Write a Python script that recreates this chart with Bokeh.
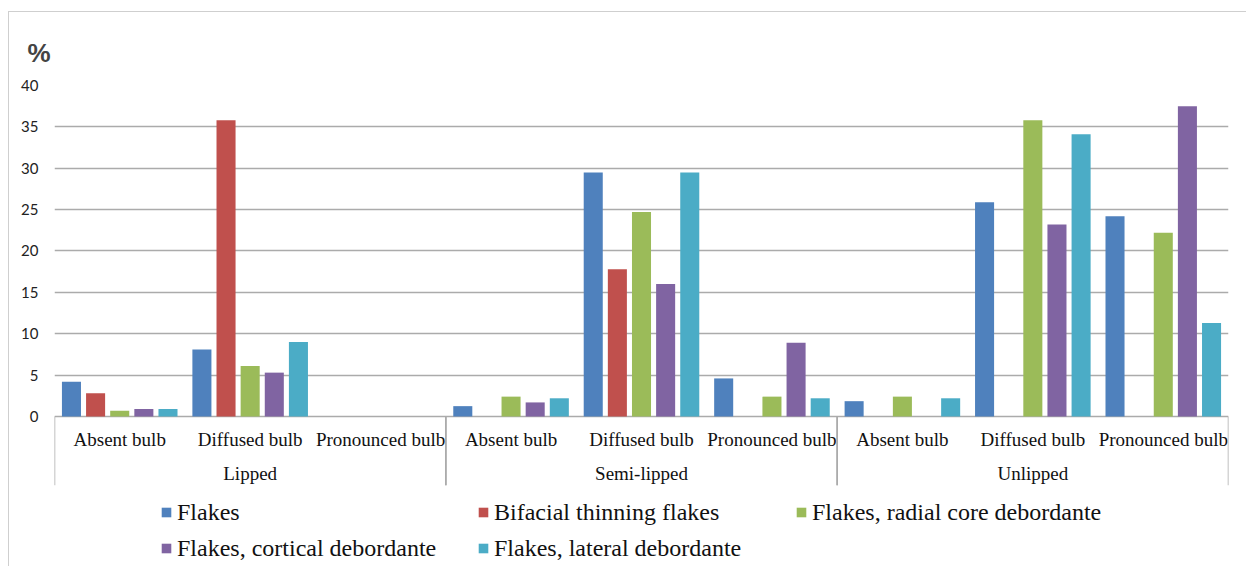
from bokeh.plotting import figure
from bokeh.models import (FactorRange, Range1d, Legend, LegendItem, FixedTicker,
                          ColumnDataSource)
from bokeh.transform import dodge
from bokeh.embed import file_html
from bokeh.resources import INLINE

groups = ["Lipped", "Semi-lipped", "Unlipped"]
bulbs = ["Absent bulb", "Diffused bulb", "Pronounced bulb"]
series = ["Flakes", "Bifacial thinning flakes", "Flakes, radial core debordante",
          "Flakes, cortical debordante", "Flakes, lateral debordante"]
colors = ["#4F81BD", "#C0504D", "#9BBB59", "#8064A2", "#4BACC6"]

flakes = [4.2, 8.1, 0, 1.25, 29.5, 4.6, 1.85, 25.9, 24.2]
bifacial = [2.8, 35.8, 0, 0, 17.8, 0, 0, 0, 0]
radial = [0.7, 6.1, 0, 2.4, 24.7, 2.4, 2.4, 35.8, 22.2]
cortical = [0.9, 5.3, 0, 1.7, 16.0, 8.9, 0, 23.2, 37.5]
lateral = [0.9, 9.0, 0, 2.2, 29.5, 2.2, 2.2, 34.1, 11.3]
y_ticks = [0, 5, 10, 15, 20, 25, 30, 35, 40]

factors = [(g, b) for g in groups for b in bulbs]
values = [flakes, bifacial, radial, cortical, lateral]
keys = ["s0", "s1", "s2", "s3", "s4"]
data = {"x": factors, "label": [b for g in groups for b in bulbs]}
for k, v in zip(keys, values):
    data[k] = v
src = ColumnDataSource(data)

GRID = "#ababab"

# page offset of the chart box (border drawn at its top/left)
OX, OY = 9, 12

p = figure(x_range=FactorRange(*factors, group_padding=0, factor_padding=0, range_padding=0),
           y_range=Range1d(-18.25, 40), width=1247 - OX, height=567 - OY,
           output_backend="svg", toolbar_location=None,
           min_border_left=54 - OX, min_border_right=19,
           min_border_top=85 - OY, min_border_bottom=0)
p.styles = {"margin-left": f"{OX - 1}px", "margin-top": f"{OY - 1}px",
            "border-top": "1px solid #cfcfcf", "border-left": "1px solid #cfcfcf"}

offsets = [-0.37, -0.185, 0.0, 0.185, 0.37]
renderers = []
for k, c, off in zip(keys, colors, offsets):
    r = p.vbar(x=dodge("x", off, range=p.x_range), top=k, width=0.146, source=src,
               fill_color=c, line_color=None)
    renderers.append(r)

# category axis (drawn inside the frame, below zero)
p.text(x="x", y=-2.82, text="label", source=src, text_align="center",
       text_baseline="middle", text_font="Liberation Serif", text_font_size="19px",
       text_color="#111111")
gsrc = ColumnDataSource({"g": groups, "first": [(g, bulbs[0]) for g in groups],
                         "last": [(g, bulbs[-1]) for g in groups]})
p.text(x="g", y=-6.85, text="g", source=gsrc, text_align="center",
       text_baseline="middle", text_font="Liberation Serif", text_font_size="19px",
       text_color="#111111")
p.segment(x0=dodge("first", -0.5, range=p.x_range), y0=0,
          x1=dodge("first", -0.5, range=p.x_range), y1=-8.3,
          source=gsrc, line_color=GRID, line_width=1.5)
p.segment(x0=dodge("last", 0.5, range=p.x_range), y0=0,
          x1=dodge("last", 0.5, range=p.x_range), y1=-8.3,
          source=gsrc, line_color=GRID, line_width=1.5)

p.title.text = "%"
p.title.text_font = "Liberation Sans"
p.title.text_font_style = "bold"
p.title.text_font_size = "26px"
p.title.align = "left"
p.title.offset = -27
p.title.standoff = 36

p.outline_line_color = None
p.xaxis.visible = False
p.xgrid.grid_line_color = None
p.ygrid.grid_line_color = GRID
p.ygrid.grid_line_width = 1.5
p.yaxis.ticker = FixedTicker(ticks=y_ticks)
p.yaxis.axis_line_color = None
p.yaxis.major_tick_line_color = None
p.yaxis.minor_tick_line_color = None
p.yaxis.major_label_text_font = "Lato"
p.yaxis.major_label_text_font_size = "15px"
p.yaxis.major_label_text_color = "#222222"
p.yaxis.major_label_standoff = 10

# legend: three columns, rows read left to right
columns = [[0, 3], [1, 4], [2]]
col_x = [106, 423, 741]
for idxs, x in zip(columns, col_x):
    its = [LegendItem(label=series[i], renderers=[renderers[i]]) for i in idxs]
    y = 5 if len(idxs) == 2 else 41
    lg = Legend(items=its, location=(x, y), orientation="vertical",
                border_line_color=None, background_fill_alpha=0, padding=0, margin=0,
                label_text_font="Liberation Serif", label_text_font_size="24px",
                label_text_color="#111111", label_height=28, spacing=8,
                glyph_width=12, glyph_height=12, label_standoff=5)
    p.add_layout(lg, "center")

open("out.html", "w").write(file_html(p, INLINE))
